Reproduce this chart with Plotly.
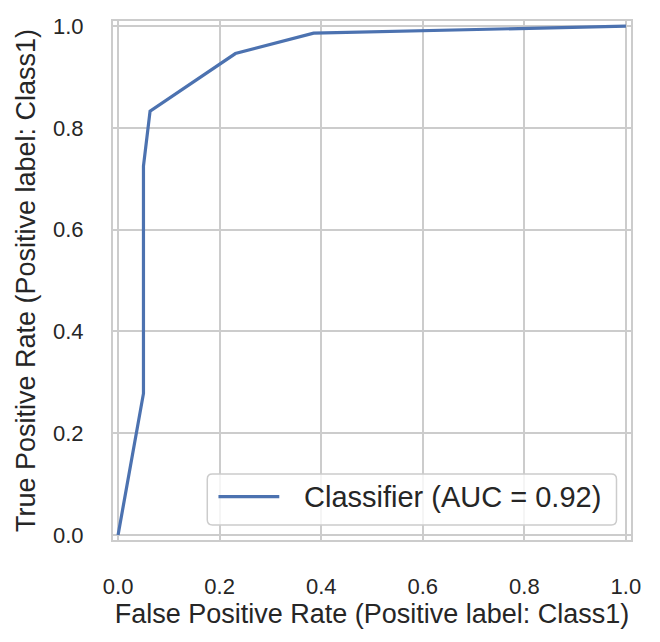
"""ROC curve (seaborn whitegrid look) rebuilt with Plotly."""
import plotly.graph_objects as go

# ROC points
fpr = [0.0, 0.05, 0.05, 0.063, 0.231, 0.385, 1.0]
tpr = [0.0, 0.278, 0.725, 0.833, 0.946, 0.986, 1.0]
auc_label = "Classifier (AUC = 0.92)"

tick_vals = [0.0, 0.2, 0.4, 0.6, 0.8, 1.0]
tick_text = ["0.0", "0.2", "0.4", "0.6", "0.8", "1.0"]

x_title = "False Positive Rate (Positive label: Class1)"
y_title = "True Positive Rate (Positive label: Class1)"

BLUE = "#4c72b0"
GRID = "#cccccc"
TEXT = "#262626"
FONT = "Liberation Sans, Arial, sans-serif"

fig = go.Figure()
fig.add_trace(go.Scatter(
    x=fpr, y=tpr, mode="lines", name=auc_label,
    line=dict(color=BLUE, width=3.2), showlegend=False,
))

# Hand-made legend box (matplotlib style: rounded frame, long line sample)
lx0, lx1, ly0, ly1, r = 0.182, 0.972, 0.029, 0.127, 0.01
legend_path = (
    f"M{lx0 + r},{ly0} L{lx1 - r},{ly0} Q{lx1},{ly0} {lx1},{ly0 + r} "
    f"L{lx1},{ly1 - r} Q{lx1},{ly1} {lx1 - r},{ly1} "
    f"L{lx0 + r},{ly1} Q{lx0},{ly1} {lx0},{ly1 - r} "
    f"L{lx0},{ly0 + r} Q{lx0},{ly0} {lx0 + r},{ly0} Z"
)
fig.add_shape(type="path", path=legend_path, xref="paper", yref="paper",
              line=dict(color=GRID, width=1.5),
              fillcolor="rgba(255,255,255,0.8)", layer="above")
fig.add_shape(type="line", xref="paper", yref="paper",
              x0=0.2036, x1=0.321, y0=0.0834, y1=0.0834,
              line=dict(color=BLUE, width=3.2), layer="above")
fig.add_annotation(text=auc_label, xref="paper", yref="paper",
                   x=0.365, y=0.0834, xanchor="left", yanchor="middle",
                   showarrow=False, font=dict(size=29, color=TEXT, family=FONT))

axis_common = dict(
    tickmode="array", tickvals=tick_vals, ticktext=tick_text,
    showgrid=True, gridcolor=GRID, gridwidth=2,
    showline=True, mirror=True, linecolor=GRID, linewidth=2,
    zeroline=False, ticks="",
    tickfont=dict(size=22, color=TEXT, family=FONT),
    automargin=False,
)
fig.update_xaxes(range=[-0.01, 1.01], ticklabelstandoff=26,
                 title=dict(text=x_title, standoff=2,
                            font=dict(size=27, color=TEXT, family=FONT)),
                 **axis_common)
fig.update_yaxes(range=[-0.01, 1.01], ticklabelstandoff=23,
                 title=dict(text=y_title, standoff=10,
                            font=dict(size=27, color=TEXT, family=FONT)),
                 **axis_common)

# page body has an 8px margin, so the figure is a little smaller and shifted
fig.update_layout(
    width=652, height=634,
    margin=dict(l=105, r=29, t=13, b=102),
    plot_bgcolor="white", paper_bgcolor="white",
    font=dict(family=FONT, color=TEXT),
)

fig.write_html("out.html")
